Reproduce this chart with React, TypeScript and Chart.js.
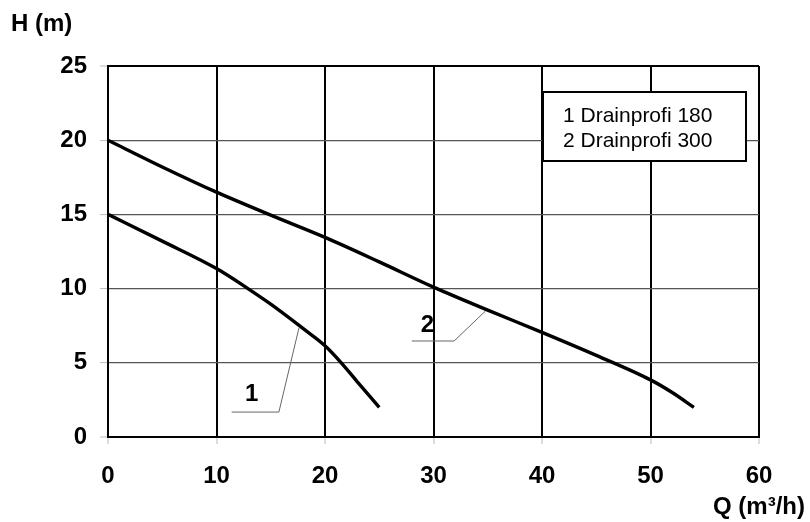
import { useEffect, useRef } from "react";
import { Chart, registerables } from "chart.js";

Chart.register(...registerables);

// Curve 1: Drainprofi 180
const flow1 = [0, 5, 10, 13, 15, 18, 20, 21.5, 23, 25];
const head1 = [15, 13.2, 11.35, 9.95, 8.95, 7.3, 6.15, 5.0, 3.7, 2.0];
// Curve 2: Drainprofi 300
const flow2 = [0, 5, 10, 15, 20, 25, 30, 35, 40, 45, 50, 52, 54];
const head2 = [20, 18.2, 16.5, 14.95, 13.45, 11.8, 10.1, 8.55, 7.05, 5.5, 3.85, 3.0, 2.0];

const seriesNames = ["1 Drainprofi 180", "2 Drainprofi 300"];
const curveTags = ["1", "2"];
// Leader lines (data coordinates) and tag positions
const leader1Q = [11.4, 15.75, 17.6];
const leader1H = [1.68, 1.68, 7.35];
const leader2Q = [28.0, 31.9, 34.8];
const leader2H = [6.47, 6.47, 8.5];
const tagQ = [13.25, 29.45];
const tagH = [2.85, 7.55];

const xMin = 0, xMax = 60, xStep = 10;
const yMin = 0, yMax = 25, yStep = 5;
const xTitle = "Q (m³/h)";
const yTitle = "H (m)";

const FONT = "'Liberation Sans', Arial, Helvetica, sans-serif";

const zip = (xs: number[], ys: number[]) => xs.map((x, i) => ({ x, y: ys[i] }));

const overlayPlugin = {
  id: "overlay",
  afterDraw(chart: any) {
    const { ctx, chartArea, scales } = chart;
    const xs = scales.x, ys = scales.y;
    ctx.save();
    // curve tags
    ctx.fillStyle = "#000";
    ctx.textAlign = "center";
    ctx.textBaseline = "middle";
    ctx.font = `bold 24px ${FONT}`;
    curveTags.forEach((t, i) => {
      ctx.fillText(t, xs.getPixelForValue(tagQ[i]), ys.getPixelForValue(tagH[i]));
    });
    // legend box
    const bx = chartArea.right - 216;
    const by = chartArea.top + 26;
    const bw = 203, bh = 69;
    ctx.fillStyle = "#fff";
    ctx.fillRect(bx, by, bw, bh);
    ctx.strokeStyle = "#000";
    ctx.lineWidth = 2;
    ctx.strokeRect(bx, by, bw, bh);
    ctx.fillStyle = "#000";
    ctx.textAlign = "left";
    ctx.font = `21px ${FONT}`;
    seriesNames.forEach((n, i) => {
      ctx.fillText(n, bx + 20, by + 24 + i * 25);
    });
    // axis titles
    ctx.font = `bold 24px ${FONT}`;
    ctx.textAlign = "left";
    ctx.fillText(yTitle, 11, 24);
    ctx.textAlign = "right";
    ctx.fillText(xTitle, 805, 507);
    ctx.restore();
  },
};

export default function App() {
  const ref = useRef<HTMLCanvasElement | null>(null);
  useEffect(() => {
    document.body.style.margin = "0";
    const canvas = ref.current!;
    const gridStrong = (v: number, a: number, b: number) => v === a || v === b;
    const chart = new Chart(canvas, {
      type: "line",
      data: {
        datasets: [
          {
            label: seriesNames[0],
            data: zip(flow1, head1),
            borderColor: "#000",
            borderWidth: 3.4,
            pointRadius: 0,
            cubicInterpolationMode: "monotone",
            fill: false,
          },
          {
            label: seriesNames[1],
            data: zip(flow2, head2),
            borderColor: "#000",
            borderWidth: 3.4,
            pointRadius: 0,
            cubicInterpolationMode: "monotone",
            fill: false,
          },
          {
            label: "leader1",
            data: zip(leader1Q, leader1H),
            borderColor: "#666",
            borderWidth: 1,
            pointRadius: 0,
            tension: 0,
            fill: false,
          },
          {
            label: "leader2",
            data: zip(leader2Q, leader2H),
            borderColor: "#666",
            borderWidth: 1,
            pointRadius: 0,
            tension: 0,
            fill: false,
          },
        ],
      },
      options: {
        responsive: false,
        animation: false,
        devicePixelRatio: 1,
        layout: { padding: { top: 66, right: 51, left: 0, bottom: 0 } },
        plugins: { legend: { display: false }, tooltip: { enabled: false } },
        scales: {
          x: {
            type: "linear",
            min: xMin,
            max: xMax,
            afterFit: (s: any) => {
              s.height = 85;
            },
            ticks: {
              stepSize: xStep,
              color: "#000",
              padding: 18,
              font: { family: FONT, size: 24, weight: "bold" },
            },
            grid: {
              color: "#000",
              lineWidth: 2,
              tickColor: "#bbb",
              tickWidth: 1,
              tickLength: 7,
            },
            border: { display: true, color: "#000", width: 2 },
          },
          y: {
            type: "linear",
            min: yMin,
            max: yMax,
            afterFit: (s: any) => {
              s.width = 108;
            },
            ticks: {
              stepSize: yStep,
              color: "#000",
              padding: 13,
              font: { family: FONT, size: 24, weight: "bold" },
            },
            grid: {
              color: (c: any) => (gridStrong(c.tick?.value, yMin, yMax) ? "#000" : "#555"),
              lineWidth: (c: any) => (gridStrong(c.tick?.value, yMin, yMax) ? 2 : 1.2),
              tickColor: "#bbb",
              tickWidth: 1,
              tickLength: 8,
            },
            border: { display: true, color: "#000", width: 2 },
          },
        },
      },
      plugins: [overlayPlugin],
    } as any);
    return () => chart.destroy();
  }, []);
  return (
    <div style={{ width: 810, height: 522, background: "#fff" }}>
      <canvas ref={ref} width={810} height={522} />
    </div>
  );
}
